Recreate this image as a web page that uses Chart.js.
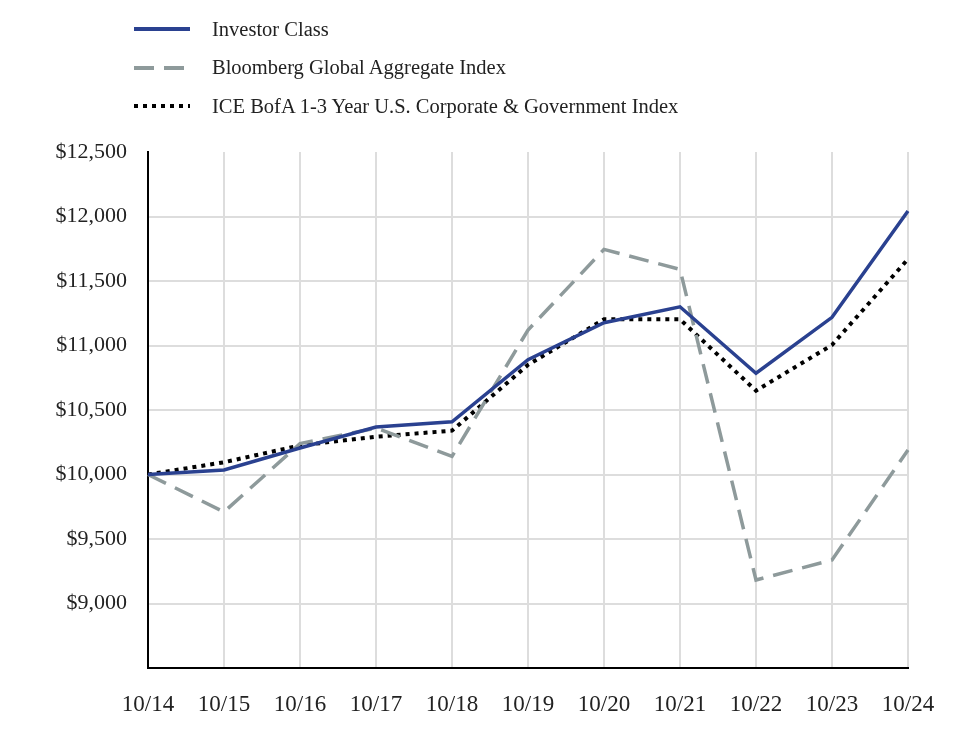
<!DOCTYPE html>
<html>
<head>
<meta charset="utf-8">
<script src="https://cdn.jsdelivr.net/npm/chart.js@4.4.1/dist/chart.umd.min.js"></script>
<style>
  html, body { margin: 0; padding: 0; background: #fff; }
  #wrap { position: relative; width: 964px; height: 740px; }
  #grafico { position: absolute; left: 0; top: 0; }
  #legenda { position: absolute; left: 134px; top: 10px; font-family: 'Liberation Serif', serif; font-size: 20.5px; color: #222; }
  .item { display: flex; align-items: center; height: 38.5px; }
  .item svg { width: 56px; height: 8px; margin-right: 22px; }
</style>
</head>
<body>
<div id="wrap">
  <canvas id="grafico" width="964" height="740"></canvas>
  <div id="legenda"></div>
</div>
<script>
// dados
const anos = ['10/14', '10/15', '10/16', '10/17', '10/18', '10/19', '10/20', '10/21', '10/22', '10/23', '10/24'];
const investorClass = [10000, 10035, 10205, 10368, 10408, 10890, 11177, 11300, 10785, 11218, 12043];
const bloombergGlobal = [10000, 9710, 10240, 10360, 10140, 11120, 11745, 11590, 9182, 9337, 10190];
const iceBofa = [10000, 10095, 10225, 10293, 10340, 10850, 11203, 11203, 10650, 11004, 11670];
const yTicks = [9000, 9500, 10000, 10500, 11000, 11500, 12000, 12500];

const fonteY = { family: "'Liberation Serif', serif", size: 22 };
const fonteX = { family: "'Liberation Serif', serif", size: 23 };

const series = [
    { label: 'Investor Class', data: investorClass, cor: '#2a4190', dash: [], largura: 3.5 },
    { label: 'Bloomberg Global Aggregate Index', data: bloombergGlobal, cor: '#8e9a9b', dash: [20, 10], largura: 3.5 },
    { label: 'ICE BofA 1-3 Year U.S. Corporate & Government Index', data: iceBofa, cor: '#000000', dash: [4, 5], largura: 4 }
];

const ctx = document.getElementById('grafico').getContext('2d');
const grafico = new Chart(ctx, {
    type: 'line',
    data: {
        labels: anos,
        datasets: series.map(s => ({
            label: s.label,
            data: s.data,
            borderColor: s.cor,
            borderDash: s.dash,
            borderWidth: s.largura,
            borderCapStyle: 'butt',
            pointRadius: 0,
            tension: 0,
            fill: false
        }))
    },
    options: {
        responsive: false,
        animation: false,
        layout: { padding: { top: 152, right: 56, bottom: 0, left: 0 } },
        plugins: {
            legend: { display: false },
            tooltip: { enabled: false }
        },
        scales: {
            x: {
                offset: false,
                afterFit: (scale) => { scale.height = 72; },
                grid: { color: '#dddddd', lineWidth: 2, drawTicks: false },
                border: { color: '#000', width: 2 },
                ticks: { font: fonteX, color: '#222', padding: 23, maxRotation: 0, autoSkip: false }
            },
            y: {
                min: 8500,
                max: 12500,
                afterFit: (scale) => { scale.width = 148; },
                afterBuildTicks: (scale) => { scale.ticks = [8500].concat(yTicks).map(v => ({ value: v })); },
                grid: {
                    color: (c) => (c.tick && (c.tick.value === 12500)) ? 'rgba(0,0,0,0)' : '#dddddd',
                    lineWidth: 2,
                    drawTicks: false
                },
                border: { color: '#000', width: 2 },
                ticks: {
                    font: fonteY,
                    color: '#222',
                    padding: 21,
                    callback: (v) => yTicks.includes(v) ? '$' + v.toLocaleString('en-US') : ''
                }
            }
        }
    }
});

// legenda em html (empilhada)
const leg = document.getElementById('legenda');
series.forEach(s => {
    const div = document.createElement('div');
    div.className = 'item';
    const dashAttr = s.dash.length ? ` stroke-dasharray="${s.dash.join(',')}"` : '';
    div.innerHTML = `<svg viewBox="0 0 56 8"><line x1="0" y1="4" x2="56" y2="4" stroke="${s.cor}" stroke-width="4"${dashAttr}/></svg><span>${s.label.replace('&', '&amp;')}</span>`;
    leg.appendChild(div);
});
</script>
</body>
</html>
